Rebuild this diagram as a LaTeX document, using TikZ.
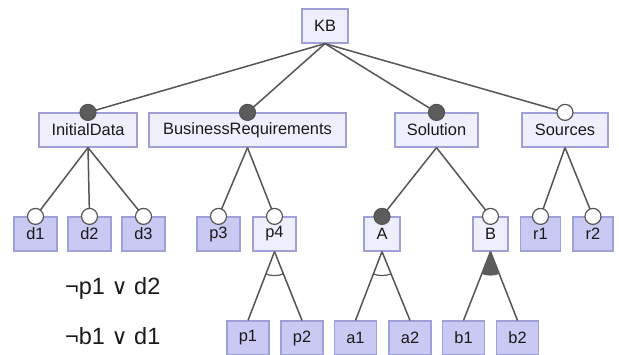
\documentclass[tikz,border=0pt]{standalone}
\usepackage{fontspec}
\setmainfont{Liberation Sans}
\newfontfamily\symf{DejaVu Sans}
\definecolor{bordc}{HTML}{A0A0D8}
\definecolor{lightc}{HTML}{EEEEFC}
\definecolor{darkc}{HTML}{C9C9F3}
\definecolor{linec}{HTML}{555555}
\definecolor{markc}{HTML}{5C5C5C}
\definecolor{txtc}{HTML}{1A1A1A}
\tikzset{
  fbox/.style={draw=bordc, line width=1.2pt, minimum height=34pt, inner sep=0pt, text=txtc,
    font=\fontsize{16.4}{18}\selectfont},
  lightbox/.style={fbox, fill=lightc},
  darkbox/.style={fbox, fill=darkc},
  conn/.style={draw=linec, line width=1.5pt},
  mand/.style={draw=linec, line width=1.2pt, fill=markc},
  opt/.style={draw=linec, line width=1.2pt, fill=white},
  logic/.style={text=txtc, font=\fontsize{23.5}{26}\selectfont, anchor=west, inner sep=0pt}
}
\newcommand{\myor}{{\symf\fontsize{22}{24}\selectfont ∨}}
\begin{document}
\begin{tikzpicture}[x=1pt,y=-1pt]
\useasboundingbox (0,0) rectangle (619,354);
% nodes
\node[lightbox, minimum width=46pt] (KB) at (325,26) {KB};
\node[lightbox, minimum width=98pt] (ID) at (88,130) {InitialData};
\node[lightbox, minimum width=197pt] (BR) at (247.5,130) {BusinessRequirements};
\node[lightbox, minimum width=83pt] (SO) at (436.5,130) {Solution};
\node[lightbox, minimum width=86pt] (SR) at (565,130) {Sources};
\node[darkbox, minimum width=43pt] (d1) at (35.5,234) {d1};
\node[darkbox, minimum width=43pt] (d2) at (89.5,234) {d2};
\node[darkbox, minimum width=43pt] (d3) at (143.5,234) {d3};
\node[darkbox, minimum width=43pt] (p3) at (218.5,234) {p3};
\node[lightbox, minimum width=43pt] (p4) at (274.5,234) {p4};
\node[lightbox, minimum width=36pt] (A) at (382,234) {A};
\node[lightbox, minimum width=35pt] (B) at (490.5,234) {B};
\node[darkbox, minimum width=40pt] (r1) at (540.5,234) {r1};
\node[darkbox, minimum width=40pt] (r2) at (593,234) {r2};
\node[darkbox, minimum width=42pt] (p1) at (248,338) {p1};
\node[darkbox, minimum width=42pt] (p2) at (302,338) {p2};
\node[darkbox, minimum width=42pt] (a1) at (355.5,338) {a1};
\node[darkbox, minimum width=42pt] (a2) at (410,338) {a2};
\node[darkbox, minimum width=42pt] (b1) at (463.5,338) {b1};
\node[darkbox, minimum width=42pt] (b2) at (517.5,338) {b2};
\node[logic] (c1) at (65,288) {¬p1 \myor\ d2};
\node[logic] (c2) at (65,336) {¬b1 \myor\ d1};
% connectors
\foreach \c in {ID,BR,SO,SR} \draw[conn] (KB.south) -- (\c.north);
\foreach \c in {d1,d2,d3} \draw[conn] (ID.south) -- (\c.north);
\foreach \c in {p3,p4} \draw[conn] (BR.south) -- (\c.north);
\foreach \c in {A,B} \draw[conn] (SO.south) -- (\c.north);
\foreach \c in {r1,r2} \draw[conn] (SR.south) -- (\c.north);
\draw[conn] (p4.south) -- (p1.north);
\draw[conn] (p4.south) -- (p2.north);
\draw[conn] (A.south) -- (a1.north);
\draw[conn] (A.south) -- (a2.north);
\draw[conn] (B.south) -- (b1.north);
\draw[conn] (B.south) -- (b2.north);
% group arcs
\begin{scope}
\clip (p4.south) -- (p1.north) -- (p2.north) -- cycle;
\draw[draw=linec, line width=1.2pt] (p4.south) circle (24pt);
\end{scope}
\begin{scope}
\clip (A.south) -- (a1.north) -- (a2.north) -- cycle;
\draw[draw=linec, line width=1.2pt] (A.south) circle (24pt);
\end{scope}
\begin{scope}
\clip (B.south) -- (b1.north) -- (b2.north) -- cycle;
\fill[markc] (B.south) circle (24pt);
\end{scope}
% markers
\foreach \c in {ID,BR,SO,A} \draw[mand] (\c.north) circle (8pt);
\foreach \c in {SR,d1,d2,d3,p3,p4,B,r1,r2} \draw[opt] (\c.north) circle (8pt);
\end{tikzpicture}
\end{document}
